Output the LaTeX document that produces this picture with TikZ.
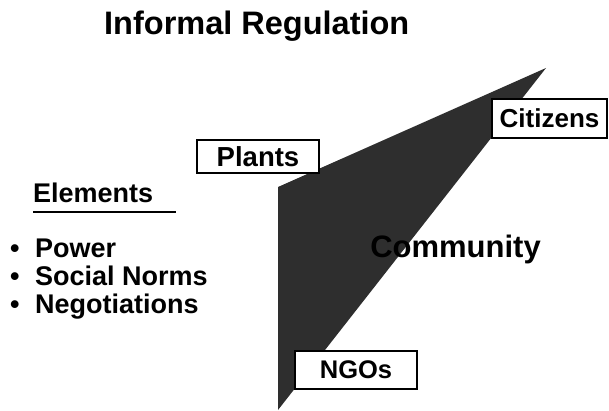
\documentclass[tikz,border=0pt]{standalone}
\usepackage{fontspec}
\setmainfont{Liberation Sans}
\tikzset{
  lbl/.style={inner sep=0pt, font=\bfseries\fontsize{27}{30}\selectfont},
  actor/.style={draw, line width=1.2pt, fill=white, inner sep=0pt, font=\bfseries\fontsize{#1}{30}\selectfont},
  actor/.default=27
}

\begin{document}
\begin{tikzpicture}[x=1pt, y=-1pt]
  \useasboundingbox (0,0) rectangle (609,411);
  \node[lbl, anchor=base west, font=\bfseries\fontsize{32.5}{35}\selectfont] (title) at (104,35) {Informal Regulation};
  \node[lbl, anchor=base west] (elem) at (33,203) {Elements};
  \draw[line width=1.5pt] (elem.south west |- 0,212) -- (176,212);
  \node[lbl, anchor=base west] (pow) at (10,257) {\makebox[25pt][l]{\textbullet}Power};
  \node[lbl, anchor=base west] (soc) at (10,285) {\makebox[25pt][l]{\textbullet}Social Norms};
  \node[lbl, anchor=base west] (neg) at (10,313) {\makebox[25pt][l]{\textbullet}Negotiations};
  % community wedge
  \fill[black!82] (278,187) -- (546,68) -- (278,410) -- cycle;
  \node[lbl, anchor=base east, font=\bfseries\fontsize{31}{33}\selectfont] (comm) at (541,257) {Community};
  \node[actor=27.5, minimum width=122pt, minimum height=33pt] (plants) at (258,156.5) {Plants};
  \node[actor=26, minimum width=115pt, minimum height=39pt] (citizens) at (549.5,118.5) {Citizens};
  \node[actor=25.5, minimum width=122pt, minimum height=38pt] (ngos) at (356,370) {NGOs};
\end{tikzpicture}
\end{document}
